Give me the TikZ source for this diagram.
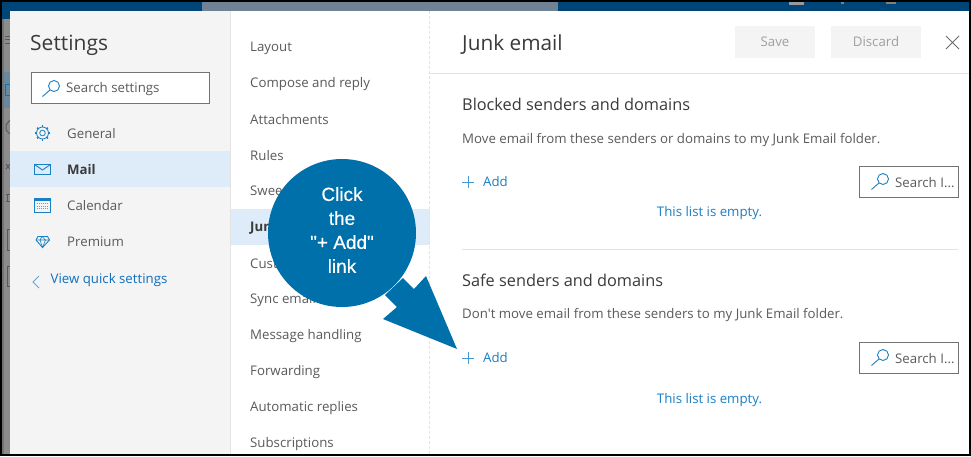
\documentclass[tikz,border=0pt]{standalone}
\usepackage{fontspec}
\setmainfont{Open Sans}
\newfontfamily\plainui{Open Sans}
\newfontfamily\callfont{Liberation Sans}[FakeBold=0.3]
\definecolor{txt}{HTML}{5A5A5A}
\definecolor{ttl}{HTML}{3A3A3A}
\definecolor{lnk}{HTML}{1B7FC4}
\definecolor{lnkd}{HTML}{106EBE}
\definecolor{call}{HTML}{0070AB}
\definecolor{hl}{HTML}{DEECF9}
\definecolor{pane}{HTML}{F4F4F4}
\definecolor{rule}{HTML}{E3E3E3}
\definecolor{bar}{HTML}{004578}
\definecolor{strip}{HTML}{8C8C8C}
\definecolor{barg}{HTML}{6F8296}
\tikzset{x=1pt,y=-1pt,
 item/.style={anchor=west,inner sep=0pt,text=txt,font=\fontsize{13.25}{15}\selectfont},
 head/.style={anchor=west,inner sep=0pt,text=ttl,font=\fontsize{16.3}{18}\selectfont},
 linktxt/.style={inner sep=0pt,text=lnk,font=\fontsize{13.25}{15}\selectfont},
 icon/.style={draw=lnk,line width=0.9pt,fill=none},
 sbox/.style={draw=black!55,line width=0.8pt,fill=white},
 btn/.style={fill=pane,inner sep=0pt,text=gray!75,font=\fontsize{13.25}{15}\selectfont},
 stub/.style={draw=black!65,line width=1pt},
}
\newcommand{\magn}[2]{\draw[icon] (#1+4,#2-2) circle (5.5) (#1,#2+2) -- (#1-7.5,#2+8.5);}
\newcommand{\plusi}[2]{\draw[lnk!80,line width=0.6pt] (#1-6,#2) -- (#1+6,#2) (#1,#2-6) -- (#1,#2+6);}
\begin{document}
\begin{tikzpicture}
\useasboundingbox (0,0) rectangle (971,456);
\fill[white] (0,0) rectangle (971,456);
% backdrop
\fill[bar] (2,2) rectangle (969,11);
\fill[bar] (2,11) rectangle (10,19);
\fill[barg] (202,2) rectangle (558,11);
\fill[strip] (2,19) rectangle (10,454);
\fill[black!55] (2,19) rectangle (4,454);
\fill[strip!70!lnk] (4,72) rectangle (10,108);
\draw[stub] (5,36) -- (10,36) (5,39.5) -- (10,39.5) (5,43) -- (10,43);
\draw[draw=lnkd,line width=1pt] (10,84) -- (5,84) -- (5,95) -- (10,95);
\draw[stub] (10,120) -- (6,125) -- (6,130) -- (10,134);
\draw[stub] (6,164) -- (10,169) (6,169) -- (10,164);
\draw[stub] (6,194) -- (10,194) (7,194) -- (7,201) (6,201) -- (10,201);
\draw[stub] (10,229) -- (7,229) -- (7,250) -- (10,250);
\draw[stub] (10,266) -- (7,266) -- (7,286) -- (10,286);
\fill[gray!80] (789,2) rectangle (804,4.5);
\fill[gray] (841,2) rectangle (844,3.5);
\fill[gray] (886,2) rectangle (896,4);
% panes
\fill[pane] (10,11) rectangle (230,454);
\fill[hl] (10,151) rectangle (230,187);
\fill[hl] (230,209) rectangle (429.5,245);
\draw[rule] (229.7,11) -- (229.7,454);
\draw[rule,densely dashed] (429.5,11) -- (429.5,454);
\draw[rule] (430,73.5) -- (969,73.5);
\draw[rule] (462,249.5) -- (958,249.5);
% left column
\node[anchor=west,inner sep=0pt,text=ttl,font=\fontsize{21}{24}\selectfont] (settings) at (30,45.5) {Settings};
\node[sbox,minimum width=178,minimum height=31,anchor=north west,inner sep=0pt] (search) at (30.5,71.5) {};
\magn{50}{88}
\node[item] (ss) at (66,89) {Search settings};
\node[item] (gen) at (67,134) {General};
\node[item,text=ttl,font=\fontsize{13.25}{15}\selectfont\bfseries] (mail) at (67,170) {Mail};
\node[item] (cal) at (67,206) {Calendar};
\node[item] (prem) at (67,242) {Premium};
\node[linktxt,anchor=west,text=lnkd] (quick) at (50.5,280.5) {View quick settings};
\draw[lnk!70,line width=0.9pt] (39,276) -- (33,282) -- (39,288);
% gear
\draw[icon,line width=0.8pt] (42.5,133) circle (2.8);
\draw[icon,line width=0.8pt] (42.5,133) circle (6);
\foreach \a in {0,45,...,315} \draw[lnk,line width=1.6pt] (42.5,133)++(\a:5.6) -- ++(\a:2);
% envelope
\draw[icon] (34.5,164.5) rectangle (50.5,174);
\draw[icon] (34.5,164.5) -- (42.5,170) -- (50.5,164.5);
% calendar
\draw[icon] (34.5,198) rectangle (50.5,212);
\fill[lnk] (34.5,198) rectangle (50.5,201);
\foreach \yy in {203.5,206,208.5} \draw[lnk!70,densely dotted,line width=0.9pt] (37,\yy) -- (48,\yy);
% diamond
\draw[icon,line join=round] (38,236.5) -- (47.5,236.5) -- (49.5,240) -- (42.5,247.5) -- (36,240) -- cycle;
\draw[icon,line width=0.6pt] (36,240) -- (49.5,240) (40,240) -- (42.5,247.5) -- (45.5,240) (40,240) -- (42,236.5) -- (45.5,240);
% middle column
\foreach \nm/\t/\yy in {a/Layout/48,b/Compose and reply/84,c/Attachments/120,d/Rules/156,e/Sweep/192,g/Customize actions/264,h/Sync email/300,i/Message handling/336,j/Forwarding/372,k/Automatic replies/408,l/Subscriptions/444}
 \node[item] (m\nm) at (250,\yy) {\t};
\node[item,text=ttl,font=\fontsize{13.25}{15}\selectfont\bfseries] (mf) at (250,228) {Junk email};
% right
\node[anchor=west,inner sep=0pt,text=ttl,font=\fontsize{20.8}{24}\selectfont] (junk) at (462,44.5) {Junk email};
\node[btn,minimum width=80,minimum height=32] (save) at (775,42) {Save};
\node[btn,minimum width=90,minimum height=32] (disc) at (876,42) {Discard};
\draw[gray!85!black,line width=0.8pt] (946,36) -- (959,49) (959,36) -- (946,49);
\node[head] (bl) at (462,104) {Blocked senders and domains};
\node[item] (bld) at (462,140) {Move email from these senders or domains to my Junk Email folder.};
\plusi{468}{182}
\node[linktxt,anchor=west] (add1) at (483,182) {Add};
\node[sbox,minimum width=99,minimum height=31,anchor=north west,inner sep=0pt] (s1) at (858.5,165.5) {};
\magn{879}{181}
\node[item] (s1t) at (895,183) {Search I...};
\node[linktxt] (em1) at (709.5,213) {This list is empty.};
\node[head] (sf) at (462,280) {Safe senders and domains};
\node[item,font=\fontsize{13.25}{15}\plainui] (sfd) at (462,315) {Don't move email from these senders to my Junk Email folder.};
\plusi{468}{358}
\node[linktxt,anchor=west] (add2) at (483,358) {Add};
\node[sbox,minimum width=99,minimum height=31,anchor=north west,inner sep=0pt] (s2) at (858.5,341.5) {};
\magn{879}{357}
\node[item] (s2t) at (895,359) {Search I...};
\node[linktxt] (em2) at (709.5,400) {This list is empty.};
% callout
\fill[call] (403,278) -- (414,289) -- (426,276) -- (457,349) -- (383,319) -- (397,307) -- (385,295) -- cycle;
\node[circle,fill=call,minimum size=148,inner sep=0pt] (c) at (342,233) {};
\node[inner sep=0pt,align=center,text=white,font=\fontsize{19}{24}\callfont] (ct) at (342,230) {Click\\the\\"+ Add"\\link};
% frame
\draw[black,line width=2pt] (1,1) rectangle (970,455);
\end{tikzpicture}
\end{document}
